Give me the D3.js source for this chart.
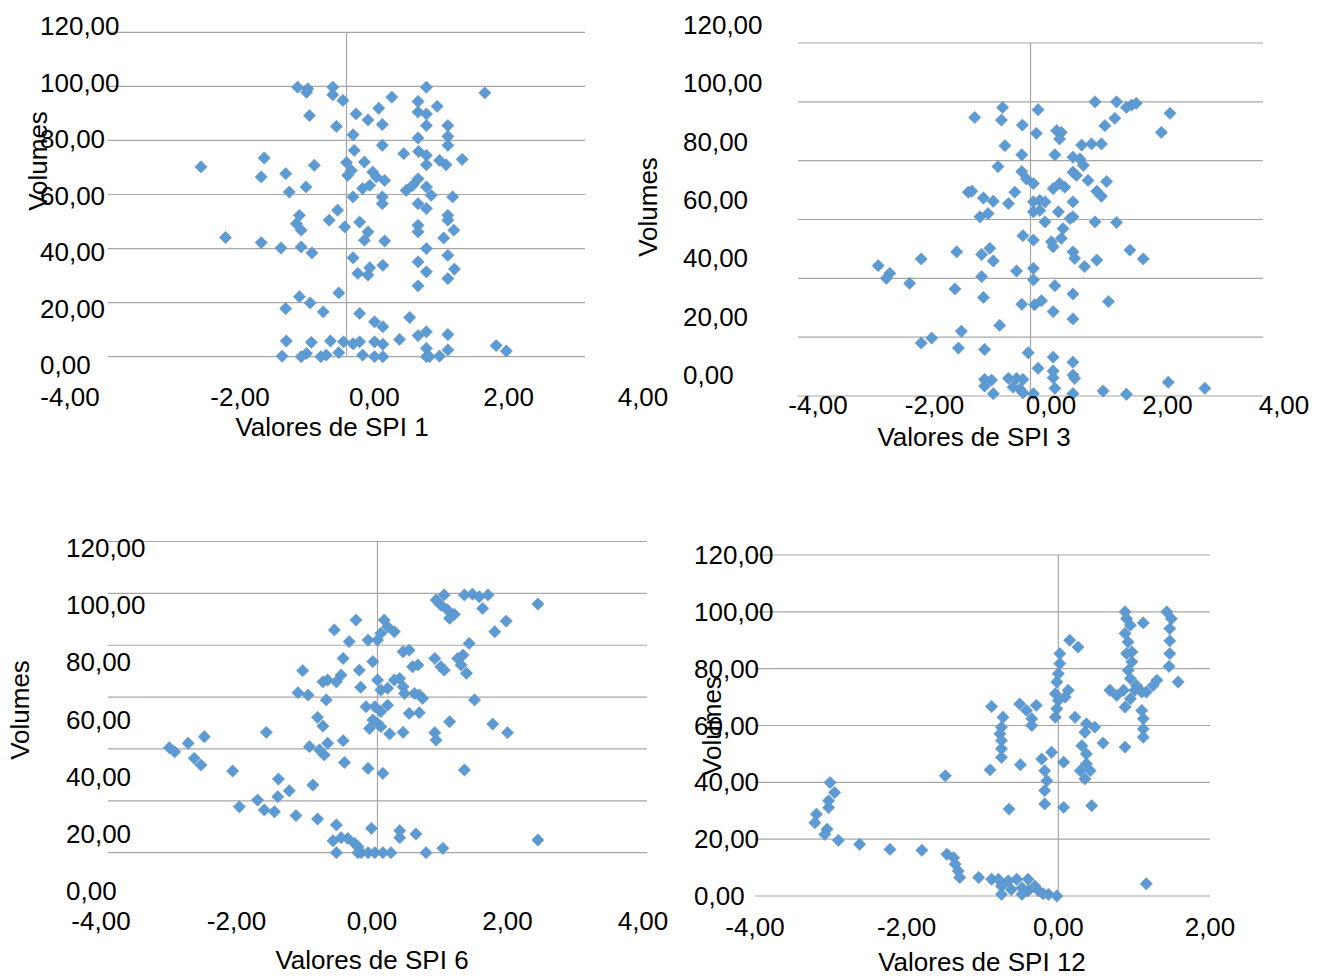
<!DOCTYPE html>
<html>
<head>
<meta charset="utf-8">
<script src="https://cdn.jsdelivr.net/npm/d3@7"></script>
<style>
  body { margin: 0; background: #fff; }
  svg text { font-family: "Liberation Sans", Arial, sans-serif; fill: #000; }
</style>
</head>
<body>
<svg width="1328" height="978"></svg>
<script>
// values: [SPI, volume]
var spi1 = [[-0.82,99.7],[-0.65,99.1],[-0.67,97.8],[-0.23,99.7],[-0.23,96.9],[-0.06,94.8],[1.34,99.7],[2.32,97.6],[0.76,96.0],[0.54,91.9],[1.20,94.4],[1.52,92.6],[1.20,90.5],[1.34,89.8],[-0.62,89.2],[0.16,89.8],[0.36,87.6],[0.60,85.9],[1.34,85.5],[1.70,85.5],[-0.17,85.2],[0.11,82.1],[1.70,81.5],[1.20,80.9],[1.70,78.2],[0.60,78.2],[0.13,76.3],[0.96,75.1],[1.21,75.9],[1.34,74.5],[-1.38,73.5],[1.56,72.6],[1.94,73.0],[1.67,71.0],[1.34,71.0],[0.00,71.8],[0.30,72.0],[-0.54,70.8],[-2.44,70.2],[-1.43,66.5],[-1.02,67.7],[-0.68,62.8],[-0.96,60.9],[0.02,67.1],[0.08,68.9],[0.44,68.3],[0.50,66.5],[0.64,65.2],[0.27,62.2],[0.39,63.4],[1.00,61.5],[1.20,65.8],[1.11,63.4],[1.34,62.8],[1.42,59.7],[0.11,59.1],[0.60,59.1],[0.60,56.6],[1.78,59.1],[1.20,56.6],[1.34,54.8],[-0.15,54.2],[-0.29,50.5],[-0.79,52.3],[-0.84,49.2],[-0.76,46.8],[-0.03,48.0],[0.22,49.8],[0.36,46.2],[0.30,43.1],[0.64,42.8],[1.20,48.6],[1.20,46.2],[1.70,52.3],[1.70,50.5],[1.80,46.8],[1.63,43.9],[-2.03,44.1],[-1.43,42.2],[-1.10,40.2],[-0.76,40.6],[-0.58,38.4],[0.11,36.6],[1.34,40.0],[1.70,37.5],[1.20,35.1],[0.61,33.8],[0.39,32.9],[0.19,30.8],[0.36,30.2],[1.34,31.4],[1.81,32.4],[1.70,28.9],[1.20,26.2],[-0.13,23.6],[-0.79,22.2],[-0.61,19.9],[-1.02,17.8],[-0.39,16.6],[0.22,16.0],[0.47,12.9],[0.61,11.1],[1.06,14.5],[1.70,8.2],[1.20,7.8],[1.34,9.2],[0.89,6.4],[-1.01,5.8],[-0.59,5.3],[-0.27,5.8],[-0.05,5.5],[0.11,4.8],[0.22,5.5],[0.47,5.5],[0.61,4.6],[2.51,4.1],[2.68,2.1],[-1.08,0.2],[-0.76,0.0],[-0.67,1.2],[-0.43,0.0],[-0.34,0.6],[-0.13,1.5],[0.27,0.6],[0.47,0.0],[0.61,0.0],[1.34,3.1],[1.34,0.0],[1.56,0.2],[1.70,2.5],[1.39,0.0]];

var spi3 = [[-0.96,94.7],[-0.48,98.1],[-0.50,93.8],[-0.14,92.1],[0.13,97.3],[0.10,89.3],[1.11,100],[1.48,100],[1.65,98.1],[1.74,98.9],[1.82,99.5],[2.40,96.1],[2.25,89.6],[1.45,94.4],[1.28,91.9],[0.45,90.2],[0.53,89.6],[0.50,87.4],[-0.44,85.1],[-0.15,82.0],[0.42,82.0],[0.88,85.3],[1.05,85.7],[1.22,85.7],[0.73,81.2],[0.85,80.6],[0.91,78.4],[-0.56,78.0],[-0.15,76.3],[-0.07,73.8],[0.05,72.2],[0.73,76.1],[0.79,75.0],[0.99,73.3],[1.31,72.9],[-1.07,69.3],[-1.01,69.6],[-0.81,67.3],[-0.64,66.2],[-0.38,65.4],[-0.27,69.3],[0.39,70.5],[0.50,72.2],[0.59,71.0],[1.14,69.6],[1.22,67.9],[0.05,66.0],[0.16,66.5],[0.25,66.0],[0.05,62.6],[0.16,63.1],[0.48,62.6],[0.73,66.0],[-0.87,60.9],[-0.73,62.0],[0.25,59.2],[0.56,56.9],[0.68,60.3],[0.73,60.9],[1.11,59.2],[1.48,59.0],[-0.13,54.5],[0.05,53.0],[0.36,52.4],[0.39,50.7],[0.53,53.6],[-1.27,49.0],[-0.84,48.1],[-0.70,50.2],[-0.64,45.9],[0.73,49.0],[0.76,46.8],[0.93,44.0],[1.14,46.2],[1.71,49.6],[1.94,46.6],[-2.62,44.3],[-2.42,41.7],[-2.48,40.0],[-2.08,38.3],[-1.88,46.6],[-0.24,42.5],[0.05,43.4],[0.05,39.5],[-0.84,40.6],[-1.30,36.4],[-0.81,33.5],[-0.15,31.2],[0.07,31.0],[0.19,32.4],[0.42,37.5],[0.73,34.7],[0.39,28.7],[0.73,26.2],[1.34,32.1],[-0.53,24.0],[-1.19,22.0],[-1.70,19.7],[-1.88,18.0],[-1.24,16.3],[-0.79,15.8],[-0.04,14.7],[0.39,13.2],[0.73,11.5],[0.13,9.4],[0.39,8.5],[0.39,6.2],[0.73,7.1],[0.76,6.0],[-0.79,5.6],[-0.67,5.4],[-0.38,6.0],[-0.24,6.0],[-0.13,5.6],[-0.79,3.4],[-0.64,0.8],[-0.30,3.0],[-0.18,2.3],[-0.13,1.1],[0.05,0.8],[0.42,2.6],[0.73,0.8],[1.25,1.7],[1.65,0.6],[2.37,4.7],[3.00,2.6]];

var spi6 = [[0.87,97.4],[0.99,99.4],[0.94,95.5],[1.04,93.6],[1.07,90.4],[1.14,91.9],[1.29,99.4],[1.41,99.7],[1.51,98.7],[1.64,99.4],[1.56,94.2],[2.38,95.9],[1.91,89.3],[1.74,85.2],[1.36,80.7],[-0.32,89.7],[-0.64,85.9],[-0.42,81.4],[-0.14,82.0],[0.00,82.0],[0.10,89.7],[0.15,87.1],[0.25,85.2],[0.05,84.6],[0.38,77.5],[0.47,78.1],[-0.51,74.9],[-0.07,73.7],[0.85,74.9],[0.94,71.7],[0.99,70.4],[1.19,74.9],[1.27,76.2],[1.24,72.4],[1.32,69.2],[0.52,71.7],[0.60,72.4],[-1.11,70.2],[-0.27,70.4],[-0.81,65.9],[-0.74,66.6],[-0.61,65.9],[-0.54,68.5],[-0.25,63.8],[0.00,66.6],[0.05,62.7],[0.15,63.4],[0.25,66.6],[0.33,67.2],[0.38,64.0],[0.40,61.4],[0.55,61.4],[0.62,60.8],[0.67,59.5],[-1.18,61.7],[-1.03,60.8],[-0.76,58.9],[1.44,58.9],[-0.17,56.3],[-0.04,56.3],[0.05,54.4],[0.15,56.9],[0.47,53.7],[0.62,54.0],[-0.89,52.2],[-0.81,48.8],[-0.07,51.2],[0.00,49.9],[-0.12,47.9],[0.05,48.6],[0.18,45.8],[0.38,46.4],[0.85,46.3],[0.87,43.4],[1.07,50.5],[1.71,49.6],[1.93,46.3],[-1.65,46.4],[-2.57,44.7],[-2.81,42.2],[-3.01,38.9],[-3.09,40.5],[-2.72,36.4],[-2.62,33.8],[-2.15,31.5],[-1.01,40.9],[-0.86,39.6],[-0.74,42.2],[-0.79,37.7],[-0.51,43.2],[-0.49,34.8],[-0.14,32.5],[0.08,30.6],[1.29,31.9],[-1.47,28.4],[-0.96,26.1],[-1.31,23.9],[-1.48,21.6],[-1.78,20.3],[-2.05,17.7],[-1.68,16.5],[-1.53,15.8],[-1.21,14.3],[-0.89,13.0],[-0.61,10.7],[-0.09,9.4],[0.33,8.5],[0.33,5.8],[0.57,7.2],[-0.66,4.6],[-0.54,5.8],[-0.44,5.5],[-0.34,3.6],[-0.29,2.3],[-0.61,0.0],[-0.29,0.0],[-0.24,0.0],[-0.14,0.0],[-0.04,0.0],[0.08,0.0],[0.20,0.0],[0.72,0.0],[0.97,1.7],[2.38,4.9]];

var spi12 = [[0.88,100],[0.90,97.6],[0.95,95.3],[1.12,96.1],[0.88,92.4],[0.92,89.4],[0.97,85.9],[0.90,85.3],[0.97,82.4],[0.92,79.4],[0.95,76.5],[1.03,74.1],[1.01,72.4],[1.10,71.8],[0.68,72.4],[0.77,70.6],[0.86,72.4],[0.88,66.5],[0.95,69.4],[1.16,71.8],[1.30,75.9],[1.25,74.1],[1.10,65.3],[1.12,62.4],[1.12,58.8],[1.12,55.9],[0.88,52.4],[0.59,53.8],[1.43,100],[1.49,97.6],[1.47,94.1],[1.47,89.8],[1.47,85.3],[1.46,80.8],[1.58,75.3],[0.02,85.3],[0.02,81.8],[0.00,78.2],[-0.02,75.3],[-0.04,71.2],[0.13,72.4],[0.00,68.8],[-0.02,65.9],[-0.04,62.9],[0.15,90.0],[0.26,87.6],[0.09,70.0],[-0.51,67.6],[-0.29,67.1],[-0.42,65.3],[-0.35,62.4],[-0.35,60.0],[0.22,62.9],[0.37,60.6],[0.48,59.4],[0.35,57.6],[0.31,52.9],[0.37,50.0],[-0.88,66.7],[-0.73,62.9],[-0.75,59.4],[-0.77,57.1],[-0.75,54.7],[-0.75,51.8],[-0.75,48.8],[-0.90,44.4],[-0.50,46.2],[0.07,47.1],[-0.18,44.1],[-0.15,40.6],[-0.18,37.1],[-0.18,32.4],[0.07,31.2],[0.44,31.8],[-0.65,30.6],[0.37,46.5],[0.29,44.1],[0.35,41.2],[0.42,44.1],[-0.22,48.2],[-0.09,50.6],[-1.49,42.3],[-3.01,39.9],[-2.95,36.4],[-3.03,33.5],[-3.03,31.1],[-3.19,28.8],[-3.21,25.8],[-3.05,23.5],[-3.08,21.7],[-2.90,19.6],[-2.62,18.2],[-2.22,16.4],[-1.80,16.1],[-1.47,14.7],[-1.38,13.5],[-1.36,11.2],[-1.32,8.8],[-1.30,6.5],[-1.05,6.5],[-0.88,5.9],[-0.79,5.9],[-0.66,5.3],[-0.55,5.9],[-0.40,5.9],[-0.75,3.5],[-0.62,2.3],[-0.48,2.9],[-0.31,3.5],[-0.40,1.8],[-0.26,1.8],[-0.20,0.8],[-0.13,0.6],[-0.02,0.0],[-0.75,0.6],[-0.48,0.6],[1.16,4.3]];

var yTicks = [0, 20, 40, 60, 80, 100, 120];
var xTicksWide = [-4, -2, 0, 2, 4];
var xTicksNarrow = [-4, -2, 0, 2];
var titles = ["Valores de SPI 1", "Valores de SPI 3", "Valores de SPI 6", "Valores de SPI 12"];
var yTitle = "Volumes";

// layout of the four panels (pixels)
var panels = [
  {data: spi1, xTicks: xTicksWide, xDom: [-4, 4], px: [108, 585], py: [356.7, 32.3],
   lyX: 40, ly: [365, 26], lxDom: [-4, -2, 4], lx: [70, 240, 643], lxY: 397,
   title: [332, 427], ytitle: [38, 161]},
  {data: spi3, xTicks: xTicksWide, xDom: [-4, 4], px: [798, 1263], py: [396, 43],
   lyX: 683, ly: [375, 25], lxDom: [-4, 4], lx: [818, 1284], lxY: 405,
   title: [974, 437], ytitle: [648, 207]},
  {data: spi6, xTicks: xTicksWide, xDom: [-4, 4], px: [108, 647], py: [852.7, 541.5],
   lyX: 66, ly: [891, 548], lxDom: [-4, 4], lx: [101, 643], lxY: 921,
   title: [372, 960], ytitle: [20, 710]},
  {data: spi12, xTicks: xTicksNarrow, xDom: [-4, 2], px: [755, 1210], py: [896, 555],
   lyX: 694, ly: [896, 555], lxDom: [-4, 2], lx: [755, 1210], lxY: 927,
   title: [982, 962], ytitle: [712, 726]}
];

var svg = d3.select('svg');
var locale = d3.formatLocale({decimal: ',', thousands: '.', grouping: [3], currency: ['', ''], minus: '-'});
var fmt = locale.format('.2f');
var diamond = d3.symbol().type(d3.symbolSquare).size(76);
var fs = 26;

panels.forEach(function(p, i) {
  var g = svg.append('g');

  var x = d3.scaleLinear().domain(p.xDom).range(p.px);
  var y = d3.scaleLinear().domain([0, 120]).range(p.py);
  var yLab = d3.scaleLinear().domain([0, 120]).range(p.ly);
  var xLab = d3.scaleLinear().domain(p.lxDom).range(p.lx);

  // gridlines
  g.selectAll('.grid').data(yTicks).enter().append('line')
      .attr('x1', p.px[0]).attr('x2', p.px[1])
      .attr('y1', function(d) { return y(d); })
      .attr('y2', function(d) { return y(d); })
      .attr('stroke', '#a6a6a6').attr('stroke-width', 1.2);

  // vertical axis at 0
  g.append('line')
      .attr('x1', x(0)).attr('x2', x(0))
      .attr('y1', y(0)).attr('y2', y(120))
      .attr('stroke', '#a6a6a6').attr('stroke-width', 1.2);

  // points
  g.selectAll('.pt').data(p.data).enter().append('path')
      .attr('d', diamond)
      .attr('transform', function(d) {
          return 'translate(' + x(d[0]) + ',' + y(d[1]) + ') rotate(45)';
      })
      .attr('fill', '#5b9bd5')
      .attr('stroke', '#6e8db0')
      .attr('stroke-width', 0.5);

  // y tick labels
  g.selectAll('.yl').data(yTicks).enter().append('text')
      .attr('x', p.lyX)
      .attr('y', function(d) { return yLab(d); })
      .attr('dy', '0.35em')
      .attr('font-size', fs)
      .text(fmt);

  // x tick labels
  g.selectAll('.xl').data(p.xTicks).enter().append('text')
      .attr('x', function(d) { return xLab(d); })
      .attr('y', p.lxY)
      .attr('dy', '0.35em')
      .attr('text-anchor', 'middle')
      .attr('font-size', fs)
      .text(fmt);

  g.append('text')
      .attr('x', p.title[0]).attr('y', p.title[1])
      .attr('dy', '0.35em')
      .attr('text-anchor', 'middle')
      .attr('font-size', fs)
      .text(titles[i]);

  g.append('text')
      .attr('transform', 'translate(' + p.ytitle[0] + ',' + p.ytitle[1] + ') rotate(-90)')
      .attr('dy', '0.35em')
      .attr('text-anchor', 'middle')
      .attr('font-size', fs)
      .text(yTitle);
});
</script>
</body>
</html>
